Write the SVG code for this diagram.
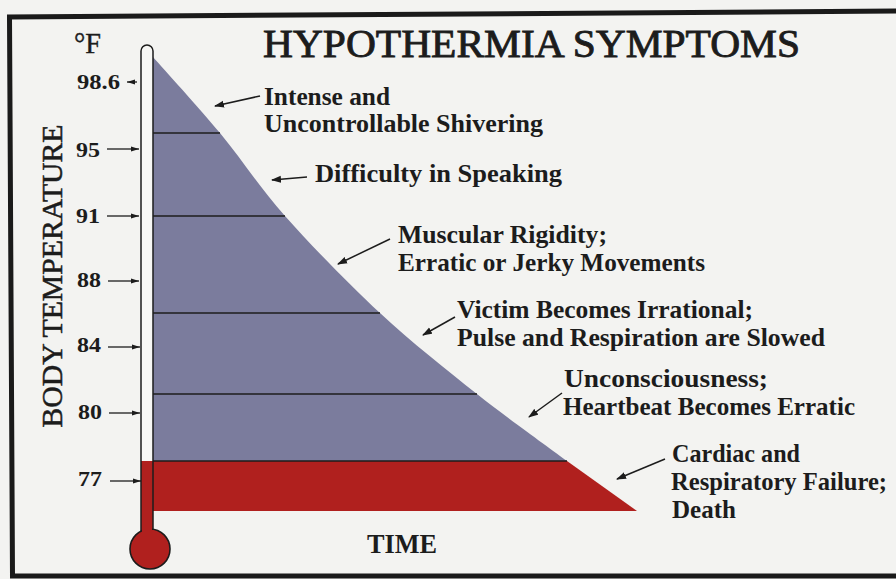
<svg xmlns="http://www.w3.org/2000/svg" width="896" height="579" viewBox="0 0 896 579">
<defs>
<style>
.lbl{font-family:"Liberation Serif","Times New Roman",serif;font-weight:bold;font-size:26px;fill:#1c1c1c}
.num{font-family:"Liberation Serif","Times New Roman",serif;font-weight:bold;font-size:22px;fill:#1c1c1c}
.ttl{font-family:"Liberation Serif","Times New Roman",serif;font-size:40px;fill:#1c1c1c;stroke:#1c1c1c;stroke-width:0.9}
.axis{font-family:"Liberation Serif","Times New Roman",serif;font-size:29px;fill:#1c1c1c;stroke:#1c1c1c;stroke-width:0.5}
.band{stroke:#1c1c1c;stroke-width:1.3}
.conn{stroke:#1c1c1c;stroke-width:1.5;fill:none;marker-end:url(#ah)}
.tick{stroke:#1c1c1c;stroke-width:1.3;fill:none;marker-end:url(#ah2)}
</style>
<marker id="ah" markerWidth="10" markerHeight="8" refX="9" refY="4" orient="auto" markerUnits="userSpaceOnUse">
<path d="M0,0.5 L10,4 L0,7.5 Z" fill="#1c1c1c"/>
</marker>
<marker id="ah2" markerWidth="8" markerHeight="6" refX="8" refY="3" orient="auto" markerUnits="userSpaceOnUse">
<path d="M0,0.5 L8,3 L0,5.5 Z" fill="#1c1c1c"/>
</marker>
</defs>
<rect width="896" height="579" fill="#f3f3f1"/>
<g id="frame" fill="none" stroke="#1a1a1a" stroke-width="5">
<path d="M900,11 L9.5,17 L12.5,576 L900,576"/>
</g>
<g id="chart">
<path id="cold-area" d="M153,57 C164.2,69.7 198,106.5 220,133 C242,159.5 258.3,186 285,216 C311.7,246 348,283.3 380,313 C412,342.7 445.8,369.3 477,394 C508.2,418.7 552,449.8 567,461 L153,461 Z" fill="#7b7c9d"/>
<polygon id="fatal-band" points="141,461 567,461 637,511 141,511" fill="#b0201e"/>
<line class="band" x1="141" y1="133" x2="220" y2="133"/>
<line class="band" x1="141" y1="216" x2="285" y2="216"/>
<line class="band" x1="141" y1="313" x2="380" y2="313"/>
<line class="band" x1="141" y1="394" x2="477" y2="394"/>
<line class="band" x1="141" y1="461" x2="567" y2="461"/>
</g>
<g id="thermometer">
<path d="M141,461 V51 A6,6 0 0 1 153,51 V461 Z" fill="#f7f7f5"/>
<rect x="141" y="461" width="12" height="76" fill="#b0201e"/>
<circle cx="150" cy="549" r="20" fill="#b0201e" stroke="#1c1c1c" stroke-width="1.6"/>
<path d="M141,531 V51 A6,6 0 0 1 153,51 V530" fill="none" stroke="#1c1c1c" stroke-width="1.5"/>
<rect x="142" y="462" width="10" height="75" fill="#b0201e"/>
</g>
<g id="axis">
<text class="ttl" x="74" y="53" style="font-size:29px;stroke-width:0.4" textLength="27" lengthAdjust="spacingAndGlyphs">°F</text>
<text class="axis" transform="translate(62,276) rotate(-90)" text-anchor="middle" textLength="303" lengthAdjust="spacingAndGlyphs">BODY TEMPERATURE</text>
<text class="lbl" x="367" y="553" style="font-size:28px" textLength="70" lengthAdjust="spacingAndGlyphs">TIME</text>
<text class="num" x="77" y="89" textLength="43" lengthAdjust="spacingAndGlyphs">98.6</text>
<text class="num" x="76" y="157" textLength="24" lengthAdjust="spacingAndGlyphs">95</text>
<text class="num" x="76" y="223" textLength="24" lengthAdjust="spacingAndGlyphs">91</text>
<text class="num" x="77" y="287" textLength="24" lengthAdjust="spacingAndGlyphs">88</text>
<text class="num" x="77" y="352" textLength="24" lengthAdjust="spacingAndGlyphs">84</text>
<text class="num" x="78" y="419" textLength="24" lengthAdjust="spacingAndGlyphs">80</text>
<text class="num" x="78" y="486" textLength="24" lengthAdjust="spacingAndGlyphs">77</text>
</g>
<g id="title">
<text class="ttl" x="263" y="57" textLength="537" lengthAdjust="spacingAndGlyphs">HYPOTHERMIA SYMPTOMS</text>
</g>
<g id="node-shivering">
<text class="lbl" x="264" y="105" textLength="126" lengthAdjust="spacingAndGlyphs">Intense and</text>
<text class="lbl" x="264" y="132" textLength="279" lengthAdjust="spacingAndGlyphs">Uncontrollable Shivering</text>
</g>
<g id="node-speaking">
<text class="lbl" x="315" y="182" textLength="247" lengthAdjust="spacingAndGlyphs">Difficulty in Speaking</text>
</g>
<g id="node-rigidity">
<text class="lbl" x="398" y="243" textLength="209" lengthAdjust="spacingAndGlyphs">Muscular Rigidity;</text>
<text class="lbl" x="398" y="271" textLength="307" lengthAdjust="spacingAndGlyphs">Erratic or Jerky Movements</text>
</g>
<g id="node-irrational">
<text class="lbl" x="457" y="318" textLength="296" lengthAdjust="spacingAndGlyphs">Victim Becomes Irrational;</text>
<text class="lbl" x="457" y="346" textLength="368" lengthAdjust="spacingAndGlyphs">Pulse and Respiration are Slowed</text>
</g>
<g id="node-unconscious">
<text class="lbl" x="564" y="387" textLength="204" lengthAdjust="spacingAndGlyphs">Unconsciousness;</text>
<text class="lbl" x="563" y="415" textLength="292" lengthAdjust="spacingAndGlyphs">Heartbeat Becomes Erratic</text>
</g>
<g id="node-death">
<text class="lbl" x="672" y="462" textLength="128" lengthAdjust="spacingAndGlyphs">Cardiac and</text>
<text class="lbl" x="671" y="490" style="font-size:25px" textLength="216" lengthAdjust="spacingAndGlyphs">Respiratory Failure;</text>
<text class="lbl" x="672" y="518" textLength="64" lengthAdjust="spacingAndGlyphs">Death</text>
</g>
<g id="connectors">
<line class="conn" x1="260" y1="96" x2="215" y2="106"/>
<line class="conn" x1="307" y1="177" x2="272" y2="180"/>
<line class="conn" x1="390" y1="239" x2="338" y2="264"/>
<line class="conn" x1="455" y1="317" x2="423" y2="335"/>
<line class="conn" x1="562" y1="393" x2="529" y2="417"/>
<line class="conn" x1="665" y1="459" x2="617" y2="479"/>
<line class="tick" x1="137" y1="82" x2="127" y2="82"/>
<line class="tick" x1="107" y1="149" x2="139" y2="149"/>
<line class="tick" x1="107" y1="216" x2="139" y2="216"/>
<line class="tick" x1="108" y1="281" x2="139" y2="281"/>
<line class="tick" x1="108" y1="347" x2="140" y2="347"/>
<line class="tick" x1="109" y1="413" x2="140" y2="413"/>
<line class="tick" x1="110" y1="481" x2="141" y2="481"/>
</g>
</svg>
